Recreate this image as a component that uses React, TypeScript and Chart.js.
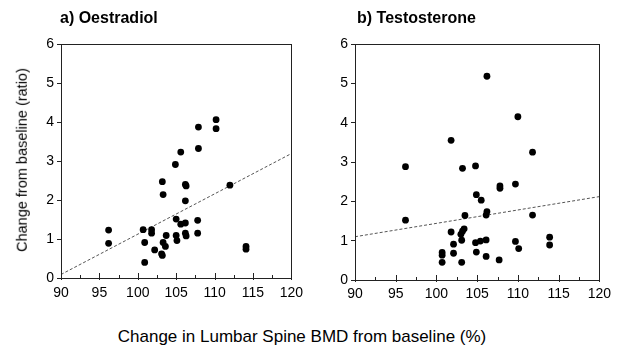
import React, { useEffect, useRef } from "react";
import { Chart, registerables } from "chart.js";

Chart.register(...registerables);

// ---- Data ----
const xTicks = [90, 95, 100, 105, 110, 115, 120];
const yTicks = [0, 1, 2, 3, 4, 5, 6];

const oestradiolX = [96.2, 96.2, 100.7, 100.9, 100.9, 101.8, 101.8, 102.2, 103.1, 103.2, 103.3, 103.6, 103.7, 103.2, 103.3, 104.9, 105.6, 105.0, 105.6, 106.2, 105.0, 105.1, 106.2, 106.3, 106.2, 106.3, 106.2, 107.9, 107.9, 107.8, 107.8, 110.2, 110.2, 112.0, 114.1, 114.1];
const oestradiolY = [1.23, 0.89, 1.24, 0.91, 0.40, 1.24, 1.15, 0.72, 0.62, 0.58, 0.91, 0.81, 1.09, 2.47, 2.14, 2.91, 3.23, 1.51, 1.38, 1.41, 1.09, 0.96, 1.15, 1.08, 2.40, 2.36, 1.98, 3.87, 3.32, 1.48, 1.15, 4.06, 3.83, 2.38, 0.81, 0.74];
const oestradiolFitX = [90, 120];
const oestradiolFitY = [0.09, 3.19];

const testosteroneX = [96.2, 96.2, 101.8, 101.8, 100.7, 100.7, 100.7, 102.1, 102.1, 103.2, 103.0, 103.2, 103.4, 103.1, 103.1, 103.5, 104.8, 104.9, 105.5, 104.8, 105.4, 106.1, 104.9, 106.1, 106.2, 106.1, 106.2, 107.8, 107.8, 107.7, 109.7, 109.7, 110.0, 110.1, 111.8, 111.8, 113.9, 113.9];
const testosteroneY = [2.88, 1.52, 3.55, 1.22, 0.70, 0.63, 0.45, 0.91, 0.68, 2.84, 1.16, 1.24, 1.30, 1.01, 0.45, 1.64, 2.90, 2.17, 2.03, 0.95, 0.99, 1.02, 0.71, 0.60, 1.74, 1.65, 5.18, 2.39, 2.33, 0.51, 2.44, 0.98, 4.15, 0.80, 3.25, 1.65, 1.09, 0.89];
const testosteroneFitX = [90, 120];
const testosteroneFitY = [1.10, 2.12];

const FONT = "'Liberation Sans', Arial, Helvetica, sans-serif";

const frameAndTicks = {
  id: "frameAndTicks",
  afterDraw(chart: any) {
    const { ctx, chartArea } = chart;
    const xs = chart.scales.x;
    ctx.save();
    ctx.strokeStyle = "#222";
    ctx.lineWidth = 1;
    ctx.strokeRect(
      Math.round(chartArea.left) + 0.5,
      Math.round(chartArea.top) + 0.5,
      Math.round(chartArea.right - chartArea.left),
      Math.round(chartArea.bottom - chartArea.top)
    );
    // inward ticks on x axis (major and minor)
    for (let v = 90; v <= 120; v += 2.5) {
      const px = Math.round(xs.getPixelForValue(v)) + 0.5;
      const major = v % 5 === 0;
      const len = major ? 5 : 3;
      ctx.beginPath();
      ctx.moveTo(px, chartArea.bottom + (major ? 2 : 0));
      ctx.lineTo(px, chartArea.bottom - len);
      ctx.stroke();
    }
    ctx.restore();
  },
};

function makeConfig(
  xs: number[],
  ys: number[],
  fitX: number[],
  fitY: number[],
  padRight: number,
  yWidth: number,
  xHeight: number,
  xPad: number
): any {
  return {
    type: "scatter",
    data: {
      datasets: [
        {
          data: xs.map((x, i) => ({ x, y: ys[i] })),
          backgroundColor: "#000",
          borderColor: "#000",
          pointRadius: 3.4,
          pointBorderWidth: 0,
        },
        {
          type: "line",
          data: fitX.map((x, i) => ({ x, y: fitY[i] })),
          borderColor: "#555",
          borderWidth: 1,
          borderDash: [3, 2],
          pointRadius: 0,
          fill: false,
        },
      ],
    },
    options: {
      responsive: false,
      animation: false,
      layout: { padding: { top: 44, right: padRight, left: 0, bottom: 0 } },
      plugins: { legend: { display: false }, tooltip: { enabled: false }, title: { display: false } },
      scales: {
        x: {
          type: "linear",
          min: 90,
          max: 120,
          afterBuildTicks: (s: any) => {
            s.ticks = xTicks.map((v) => ({ value: v }));
          },
          afterFit: (s: any) => {
            s.height = xHeight;
          },
          ticks: { color: "#000", font: { family: FONT, size: 14 }, padding: xPad, maxRotation: 0 },
          grid: { display: true, drawOnChartArea: false, drawTicks: false, tickLength: 0 },
          border: { display: false },
        },
        y: {
          type: "linear",
          min: 0,
          max: 6,
          afterBuildTicks: (s: any) => {
            s.ticks = yTicks.map((v) => ({ value: v }));
          },
          afterFit: (s: any) => {
            s.width = yWidth;
          },
          ticks: { color: "#000", font: { family: FONT, size: 14 }, padding: 3 },
          grid: { display: true, drawOnChartArea: false, drawTicks: true, tickLength: 4, color: "#222" },
          border: { display: false },
        },
      },
    },
    plugins: [frameAndTicks],
  };
}

function Panel(props: { left: number; width: number; cfg: any }) {
  const ref = useRef<HTMLCanvasElement | null>(null);
  useEffect(() => {
    if (!ref.current) return;
    const chart = new Chart(ref.current, props.cfg);
    return () => chart.destroy();
  }, []);
  return (
    <canvas
      ref={ref}
      width={props.width}
      height={310}
      style={{ position: "absolute", left: props.left, top: 0, width: props.width, height: 310 }}
    />
  );
}

export default function App() {
  const leftCfg = makeConfig(oestradiolX, oestradiolY, oestradiolFitX, oestradiolFitY, 8, 61, 32, 7);
  const rightCfg = makeConfig(testosteroneX, testosteroneY, testosteroneFitX, testosteroneFitY, 15, 45, 30, 6);
  const textBase: React.CSSProperties = { position: "absolute", fontFamily: FONT, color: "#000", whiteSpace: "nowrap", lineHeight: 1 };
  return (
    <div style={{ position: "absolute", left: 0, top: 0, width: 617, height: 348, background: "#fff", overflow: "hidden" }}>
      <Panel left={0} width={310} cfg={leftCfg} />
      <Panel left={310} width={307} cfg={rightCfg} />
      <div style={{ ...textBase, left: 60, top: 10, fontSize: 16, fontWeight: "bold" }}>a) Oestradiol</div>
      <div style={{ ...textBase, left: 357, top: 10, fontSize: 16, fontWeight: "bold" }}>b) Testosterone</div>
      <div
        style={{
          ...textBase,
          left: 22,
          top: 160,
          fontSize: 14.5,
          transform: "translate(-50%, -50%) rotate(-90deg)",
        }}
      >
        Change from baseline (ratio)
      </div>
      <div style={{ ...textBase, left: 302, top: 336, fontSize: 17, transform: "translate(-50%, -50%)" }}>
        Change in Lumbar Spine BMD from baseline (%)
      </div>
    </div>
  );
}
